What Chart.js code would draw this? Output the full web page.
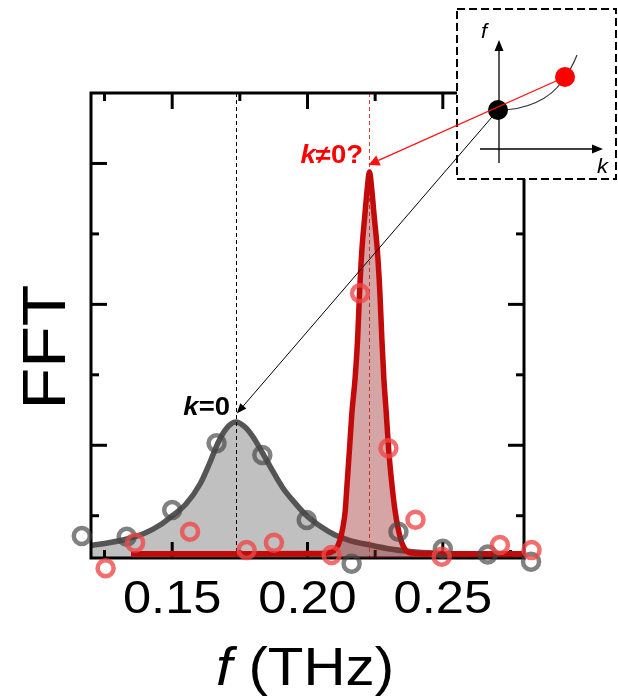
<!DOCTYPE html>
<html>
<head>
<meta charset="utf-8">
<script src="https://cdn.jsdelivr.net/npm/chart.js@4.4.1/dist/chart.umd.min.js"></script>
<style>
  html, body { margin: 0; padding: 0; background: #fff; overflow: hidden; }
  canvas { display: block; }
</style>
</head>
<body>
<canvas id="c" width="618" height="700"></canvas>
<script>
// ---- data (frequency in THz, FFT amplitude in arbitrary units) ----
const grayCurveF = [0.1200, 0.1270, 0.1333, 0.1400, 0.1455, 0.1499, 0.1551, 0.1603, 0.1640, 0.1669,
                    0.1699, 0.1735, 0.1769, 0.1799, 0.1832, 0.1869, 0.1909, 0.1954, 0.1998, 0.2046,
                    0.2102, 0.2157, 0.2231, 0.2305, 0.2379, 0.2490, 0.2637, 0.2800];
const grayCurveA = [0.089, 0.110, 0.135, 0.177, 0.234, 0.298, 0.383, 0.525, 0.681, 0.816,
                    0.916, 0.965, 0.930, 0.859, 0.752, 0.625, 0.497, 0.390, 0.298, 0.227,
                    0.163, 0.124, 0.092, 0.064, 0.046, 0.032, 0.021, 0.014];

const redCurveF = [0.1348, 0.1788, 0.2046, 0.2083, 0.2105, 0.2120, 0.2131, 0.2139, 0.2146, 0.2155,
                   0.2164, 0.2176, 0.2185, 0.2192, 0.2201, 0.2212, 0.2221, 0.2229, 0.2237, 0.2246,
                   0.2258, 0.2267, 0.2275, 0.2282, 0.2291, 0.2300, 0.2311, 0.2323, 0.2336, 0.2349,
                   0.2364, 0.2386, 0.2453, 0.2793];
const redCurveA = [0.030, 0.030, 0.032, 0.039, 0.064, 0.128, 0.220, 0.326, 0.518, 0.767,
                   1.029, 1.278, 1.547, 1.867, 2.186, 2.434, 2.626, 2.740, 2.626, 2.434,
                   2.186, 1.902, 1.547, 1.278, 1.029, 0.767, 0.539, 0.341, 0.199, 0.106,
                   0.053, 0.035, 0.030, 0.030];

const grayDotF = [0.1166, 0.1332, 0.1500, 0.1664, 0.1833, 0.1997, 0.2163, 0.2336, 0.2500, 0.2666, 0.2826];
const grayDotA = [0.156, 0.151, 0.341, 0.814, 0.731, 0.270, -0.040, 0.187, 0.066, 0.024, -0.026];

const redDotF = [0.1254, 0.1363, 0.1566, 0.1775, 0.1876, 0.2089, 0.2194, 0.2299, 0.2399, 0.2496, 0.2711, 0.2828];
const redDotA = [-0.073, 0.109, 0.187, 0.057, 0.109, 0.021, 1.879, 0.779, 0.272, 0.009, 0.092, 0.057];

// ---- axes ----
const xTickLabels = ['0.15', '0.20', '0.25'];
const xMajorTicks = [0.15, 0.20, 0.25];
const xMinorTicks = [0.125, 0.175, 0.225, 0.275];
const yMajorTicks = [0.8, 1.8, 2.8];
const yMinorTicks = [0.3, 1.3, 2.3];

const pts = (fs, as) => fs.map((f, i) => ({ x: f, y: as[i] }));
const peakOf = (fs, as) => { let k = 0; as.forEach((v, i) => { if (v > as[k]) k = i; }); return { f: fs[k], a: as[k] }; };
const grayPeak = peakOf(grayCurveF, grayCurveA);
const redPeak = peakOf(redCurveF, redCurveA);

const FONT = '"Liberation Sans", Arial, sans-serif';
const SX = 1.1; // horizontal stretch used for all text

function drawRuns(ctx, runs, x, y, align) {
  ctx.save();
  ctx.textAlign = 'left';
  ctx.textBaseline = 'alphabetic';
  let total = 0;
  runs.forEach(r => { ctx.font = r.font; r.w = ctx.measureText(r.text).width; total += r.w; });
  ctx.translate(x, y);
  ctx.scale(SX, 1);
  let cx = align === 'center' ? -total / 2 : align === 'right' ? -total : 0;
  runs.forEach(r => { ctx.font = r.font; ctx.fillStyle = r.color; ctx.fillText(r.text, cx, 0); cx += r.w; });
  ctx.restore();
}

function arrow(ctx, x1, y1, x2, y2, color, lw, len, half) {
  const a = Math.atan2(y2 - y1, x2 - x1);
  const bx = x2 - len * Math.cos(a), by = y2 - len * Math.sin(a);
  ctx.save();
  ctx.strokeStyle = color; ctx.fillStyle = color; ctx.lineWidth = lw;
  ctx.beginPath(); ctx.moveTo(x1, y1); ctx.lineTo(bx, by); ctx.stroke();
  ctx.beginPath();
  ctx.moveTo(x2, y2);
  ctx.lineTo(bx + half * Math.sin(a), by - half * Math.cos(a));
  ctx.lineTo(bx - half * Math.sin(a), by + half * Math.cos(a));
  ctx.closePath(); ctx.fill();
  ctx.restore();
}

const GRAY_CURVE = 3;

// frame, inward ticks and dashed peak markers, drawn right after the gray curve
const framePlugin = {
  id: 'frame',
  afterDatasetDraw(chart, args) {
    if (args.index !== GRAY_CURVE) return;
    const { ctx, chartArea: a, scales: { x, y } } = chart;
    ctx.save();
    ctx.lineWidth = 1;
    ctx.setLineDash([4, 3]);
    [[grayPeak.f, '#000000'], [redPeak.f, '#e83a3a']].forEach(([f, col]) => {
      const px = Math.round(x.getPixelForValue(f)) + 0.5;
      ctx.strokeStyle = col;
      ctx.beginPath(); ctx.moveTo(px, a.top); ctx.lineTo(px, a.bottom); ctx.stroke();
    });
    ctx.setLineDash([]);
    ctx.strokeStyle = '#000'; ctx.lineWidth = 3;
    ctx.strokeRect(a.left, a.top, a.right - a.left, a.bottom - a.top);
    const seg = (x1, y1, x2, y2) => { ctx.beginPath(); ctx.moveTo(x1, y1); ctx.lineTo(x2, y2); ctx.stroke(); };
    const xt = (list, len) => list.forEach(v => {
      const px = x.getPixelForValue(v);
      seg(px, a.bottom, px, a.bottom - len);
      seg(px, a.top, px, a.top + len);
    });
    const yt = (list, len) => list.forEach(v => {
      const py = y.getPixelForValue(v);
      seg(a.left, py, a.left + len, py);
      seg(a.right, py, a.right - len, py);
    });
    xt(xMajorTicks, 16); xt(xMinorTicks, 8);
    yt(yMajorTicks, 16); yt(yMinorTicks, 8);
    ctx.restore();
  }
};

// tick labels, axis titles, inset dispersion sketch and annotations
const overlayPlugin = {
  id: 'overlay',
  afterDraw(chart) {
    const { ctx, scales: { x, y } } = chart;
    ctx.save();
    xMajorTicks.forEach((v, i) => {
      drawRuns(ctx, [{ text: xTickLabels[i], font: '46px ' + FONT, color: '#000' }], x.getPixelForValue(v), 613, 'center');
    });
    drawRuns(ctx, [
      { text: 'f', font: 'italic 53px ' + FONT, color: '#000' },
      { text: ' (THz)', font: '53px ' + FONT, color: '#000' }
    ], 216, 685, 'left');
    ctx.save();
    ctx.translate(65, 347);
    ctx.rotate(-Math.PI / 2);
    drawRuns(ctx, [{ text: 'FFT', font: '62px ' + FONT, color: '#000' }], 0, 0, 'center');
    ctx.restore();

    // inset box
    ctx.fillStyle = '#fff';
    ctx.fillRect(457, 9, 159, 170);
    ctx.setLineDash([8, 4]);
    ctx.lineWidth = 2; ctx.strokeStyle = '#000';
    ctx.strokeRect(457, 9, 159, 170);
    ctx.setLineDash([]);

    // inset axes
    arrow(ctx, 499, 163, 499, 40, '#000', 1.3, 11, 4.5);
    arrow(ctx, 480, 149, 603, 149, '#000', 1.3, 11, 4.5);
    drawRuns(ctx, [{ text: 'f', font: 'italic 20px ' + FONT, color: '#000' }], 481, 38, 'left');
    drawRuns(ctx, [{ text: 'k', font: 'italic 20px ' + FONT, color: '#000' }], 597, 172.5, 'left');

    // dispersion branch
    ctx.strokeStyle = '#333'; ctx.lineWidth = 1.2;
    ctx.beginPath();
    ctx.moveTo(499, 110);
    ctx.bezierCurveTo(525, 110, 550, 100, 563, 80);
    ctx.quadraticCurveTo(572, 68, 577, 55);
    ctx.stroke();

    // k = 0 link to the gray peak
    const gx = x.getPixelForValue(grayPeak.f) + 1, gy = y.getPixelForValue(grayPeak.a) - 8.5;
    arrow(ctx, 498, 110, gx, gy, '#000', 1, 10, 4);
    ctx.fillStyle = '#000';
    ctx.beginPath(); ctx.arc(498, 110, 10, 0, Math.PI * 2); ctx.fill();

    // k != 0 link to the red peak
    const rx = x.getPixelForValue(redPeak.f) - 1, ry = y.getPixelForValue(redPeak.a) - 7;
    arrow(ctx, 565, 77, rx, ry, '#ff1010', 1.2, 11, 5.5);
    ctx.fillStyle = '#ff0000';
    ctx.beginPath(); ctx.arc(565, 77, 10, 0, Math.PI * 2); ctx.fill();

    drawRuns(ctx, [
      { text: 'k', font: 'italic bold 25px ' + FONT, color: '#000' },
      { text: '=0', font: 'bold 25px ' + FONT, color: '#000' }
    ], 230, 415, 'right');
    drawRuns(ctx, [
      { text: 'k', font: 'italic bold 25px ' + FONT, color: '#ff0000' },
      { text: '\u22600?', font: 'bold 25px ' + FONT, color: '#ff0000' }
    ], 363, 163, 'right');
    ctx.restore();
  }
};

new Chart(document.getElementById('c'), {
  type: 'line',
  data: {
    datasets: [
      {
        label: 'k≠0 data',
        data: pts(redDotF, redDotA),
        showLine: false,
        pointRadius: 8, pointHoverRadius: 8, pointBorderWidth: 4.5,
        pointBackgroundColor: 'rgba(0,0,0,0)',
        pointBorderColor: 'rgba(240,70,70,0.78)',
        clip: false, order: 0
      },
      {
        label: 'k=0 data',
        data: pts(grayDotF, grayDotA),
        showLine: false,
        pointRadius: 8, pointHoverRadius: 8, pointBorderWidth: 4.5,
        pointBackgroundColor: 'rgba(0,0,0,0)',
        pointBorderColor: 'rgba(70,70,70,0.68)',
        clip: false, order: 1
      },
      {
        label: 'k≠0 fit',
        data: pts(redCurveF, redCurveA),
        borderColor: '#c20a0a',
        backgroundColor: 'rgba(150,30,30,0.4)',
        borderWidth: 5.5,
        borderJoinStyle: 'round',
        fill: 'start',
        pointRadius: 0,
        cubicInterpolationMode: 'monotone',
        order: 2
      },
      {
        label: 'k=0 fit',
        data: pts(grayCurveF, grayCurveA),
        borderColor: '#555555',
        backgroundColor: '#c0c0c0',
        borderWidth: 5.5,
        borderJoinStyle: 'round',
        fill: 'start',
        pointRadius: 0,
        cubicInterpolationMode: 'monotone',
        order: 3
      }
    ]
  },
  options: {
    responsive: false,
    animation: false,
    events: [],
    layout: { padding: { left: 91, top: 93, right: 94, bottom: 142 } },
    scales: {
      x: { type: 'linear', min: 0.12, max: 0.28, display: false },
      y: { type: 'linear', min: 0, max: 3.3, display: false }
    },
    plugins: { legend: { display: false }, tooltip: { enabled: false } }
  },
  plugins: [framePlugin, overlayPlugin]
});
</script>
</body>
</html>
